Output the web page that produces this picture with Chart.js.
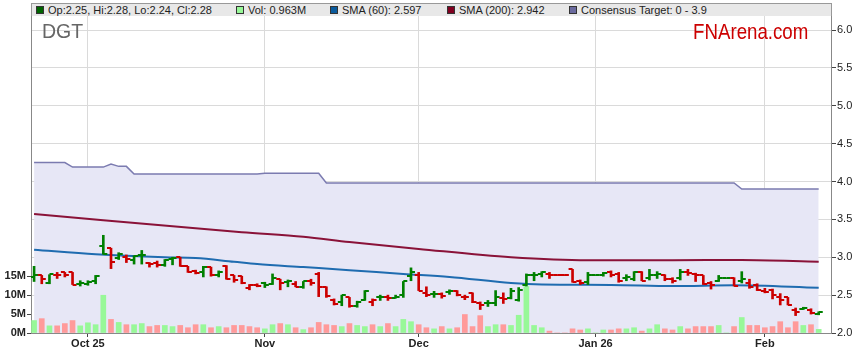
<!DOCTYPE html>
<html lang="en">
<head>
  <meta charset="UTF-8" />
  <title>DGT</title>
  <script src="https://cdn.jsdelivr.net/npm/chart.js"></script>
  <style>
    body { margin: 0; background: #fff; font-family: "Liberation Sans", Arial, sans-serif; }
    #wrap { position: relative; width: 859px; height: 363px; }
    #legend { position: absolute; left: 31px; top: 3px; width: 799px; height: 12px; background: #e8e8e8;
              border: 1px solid #999; border-bottom: none; font-size: 11px; color: #222; line-height: 12px; }
    .item { position: absolute; top: 0; white-space: nowrap; }
    .sq { display: inline-block; width: 6px; height: 6px; border: 1px solid #333; margin-right: 4px; vertical-align: 0px; }
    #code { position: absolute; left: 42px; top: 22px; font-size: 19.5px; line-height: 1; color: #666; }
    #brand { position: absolute; left: 693px; top: 21px; font-size: 22px; line-height: 1; color: #cc0000;
             transform: scaleX(0.85); transform-origin: left top; }
  </style>
</head>
<body>
  <div id="wrap">
    <canvas id="chart"></canvas>
    <div id="legend">
      <span class="item" style="left:4px"><span class="sq" style="background:#006400"></span>Op:2.25, Hi:2.28, Lo:2.24, Cl:2.28</span>
      <span class="item" style="left:204px"><span class="sq" style="background:#98f898"></span>Vol: 0.963M</span>
      <span class="item" style="left:298px"><span class="sq" style="background:#0a5a9c"></span>SMA (60): 2.597</span>
      <span class="item" style="left:415px"><span class="sq" style="background:#800020"></span>SMA (200): 2.942</span>
      <span class="item" style="left:537px"><span class="sq" style="background:#6a6a9e"></span>Consensus Target: 0 - 3.9</span>
    </div>
    <div id="code">DGT</div>
    <div id="brand">FNArena.com</div>
  </div>

  <script>
    // daily bars, 22 Sep 2025 -> 11 Feb 2026 (every weekday, holidays flat with no volume)
    const opens = [2.74,2.76,2.66,2.77,2.80,2.80,2.65,2.65,2.69,3.15, 3.12,2.99,3.00,2.96,3.03,2.93,2.93,2.90,2.98,3.00,
                   2.88,2.82,2.80,2.87,2.77,2.89,2.76,2.75,2.59,2.63, 2.66,2.65,2.71,2.67,2.65,2.61,2.69,2.78,2.61,2.44,
                   2.41,2.47,2.36,2.43,2.41,2.47,2.47,2.46,2.50,2.75, 2.76,2.53,2.51,2.52,2.54,2.56,2.48,2.53,2.40,2.39,
                   2.40,2.46,2.46,2.44,2.63,2.76,2.78,2.78,2.76,2.76, 2.84,2.68,2.67,2.76,2.77,2.81,2.78,2.72,2.71,2.80,
                   2.72,2.77,2.76,2.71,2.72,2.81,2.78,2.76,2.66,2.68, 2.72,2.73,2.68,2.66,2.63,2.55,2.57,2.47,2.47,2.30,
                   2.32,2.31,2.25];
    const highs = [2.88,2.76,2.77,2.80,2.80,2.80,2.69,2.69,2.76,3.29, 3.12,3.06,3.03,3.02,3.09,2.93,2.95,2.97,3.00,3.00,
                   2.88,2.83,2.88,2.87,2.82,2.89,2.76,2.75,2.64,2.65, 2.67,2.78,2.71,2.70,2.68,2.68,2.71,2.80,2.61,2.45,
                   2.50,2.47,2.42,2.56,2.45,2.50,2.50,2.50,2.68,2.86, 2.80,2.61,2.55,2.53,2.57,2.56,2.50,2.53,2.41,2.43,
                   2.56,2.53,2.59,2.60,2.78,2.80,2.81,2.80,2.76,2.76, 2.84,2.70,2.80,2.76,2.80,2.82,2.80,2.77,2.81,2.81,
                   2.84,2.81,2.77,2.73,2.84,2.84,2.79,2.76,2.68,2.76, 2.72,2.73,2.81,2.71,2.65,2.59,2.58,2.52,2.47,2.33,
                   2.34,2.32,2.28];
    const lows = [2.68,2.65,2.65,2.72,2.74,2.64,2.62,2.63,2.65,3.04, 2.85,2.97,2.93,2.91,2.91,2.87,2.87,2.88,2.90,2.88,
                  2.80,2.78,2.74,2.75,2.74,2.71,2.67,2.65,2.57,2.61, 2.60,2.64,2.57,2.61,2.61,2.59,2.63,2.48,2.47,2.37,
                  2.36,2.34,2.34,2.43,2.36,2.43,2.43,2.46,2.47,2.69, 2.56,2.48,2.47,2.46,2.51,2.49,2.44,2.40,2.31,2.35,
                  2.36,2.39,2.45,2.42,2.62,2.69,2.74,2.72,2.76,2.76, 2.67,2.64,2.64,2.76,2.75,2.74,2.67,2.69,2.69,2.69,
                  2.70,2.72,2.69,2.66,2.70,2.76,2.68,2.64,2.58,2.68, 2.72,2.62,2.66,2.59,2.56,2.53,2.45,2.37,2.37,2.23,
                  2.31,2.25,2.24];
    const closes = [2.76,2.71,2.78,2.77,2.76,2.64,2.66,2.67,2.75,3.04, 2.94,3.04,2.98,3.01,3.03,2.91,2.90,2.96,2.99,2.88,
                    2.80,2.79,2.87,2.77,2.80,2.71,2.70,2.66,2.63,2.62, 2.64,2.72,2.66,2.68,2.61,2.68,2.66,2.61,2.49,2.38,
                    2.50,2.36,2.41,2.55,2.43,2.47,2.46,2.47,2.68,2.81, 2.56,2.50,2.52,2.49,2.55,2.50,2.47,2.41,2.37,2.40,
                    2.47,2.45,2.55,2.57,2.76,2.77,2.80,2.76,2.76,2.76, 2.67,2.66,2.76,2.76,2.79,2.77,2.68,2.74,2.81,2.69,
                    2.76,2.78,2.71,2.69,2.80,2.79,2.77,2.65,2.64,2.72, 2.72,2.62,2.71,2.61,2.57,2.54,2.50,2.43,2.37,2.28,
                    2.33,2.26,2.28];
    // volume in millions of shares
    const volumes = [3.3,3.8,1.9,1.9,2.5,3.3,1.9,2.7,2.2,10.0, 3.6,2.8,2.2,2.2,2.5,1.7,2.0,2.0,1.7,2.0,
                     1.4,2.2,2.2,1.4,1.7,1.4,2.0,2.0,1.7,1.4, 1.1,2.2,2.5,2.2,1.4,0.9,1.4,2.8,2.2,2.0,
                     1.7,2.5,2.0,1.7,2.2,1.7,2.5,1.7,3.6,3.0, 2.2,1.4,1.1,1.7,1.1,1.4,4.9,1.7,4.6,1.7,
                     2.2,2.2,2.0,4.7,12.3,2.0,1.4,0.5,0,0, 1.1,0.8,1.1,0,0.8,0.8,1.1,1.1,1.4,0.5,
                     1.1,2.2,1.1,0.8,1.7,1.1,1.7,1.7,1.7,2.0, 0,1.7,4.1,2.0,2.0,1.4,1.7,3.0,1.4,3.0,
                     2.0,2.2,0.963];
    const prevClose = 2.72;

    const sma60 = [[0,3.10],[8,3.04],[17,3.00],[21,2.99],[26,2.94],[29,2.91],[35,2.87],[41,2.83],[48,2.78],
                   [54,2.74],[62,2.66],[66,2.64],[75,2.635],[83,2.62],[91,2.63],[102,2.597]];
    const sma200 = [[0,3.57],[27,3.33],[35,3.27],[41,3.20],[50,3.11],[62,3.00],[72,2.96],[83,2.96],[92,2.965],[102,2.942]];
    const consensus = [[0,4.25],[4,4.25],[5,4.19],[9,4.19],[10,4.23],[11,4.20],[12,4.20],[13,4.10],[29,4.10],[30,4.11],
                       [37,4.11],[38,3.98],[91,3.98],[92,3.90],[102,3.90]];

    const monthTicks = [7, 30, 50, 73, 95];
    const monthLabels = ['Oct 25', 'Nov', 'Dec', 'Jan 26', 'Feb'];
    const volTicks = [0, 5, 10, 15];

    const GREEN = '#008000', RED = '#cc0000';
    const VGREEN = '#98f898', VRED = '#ff9a9a';

    // up/down vs previous close, unchanged days keep the last colour
    const up = [];
    closes.forEach((c, i) => {
      const p = i ? closes[i - 1] : prevClose;
      up.push(c > p ? true : c < p ? false : (i ? up[i - 1] : true));
    });

    function tickImg(color, side) {
      const c = document.createElement('canvas');
      c.width = 10; c.height = 2;
      const g = c.getContext('2d');
      g.fillStyle = color;
      g.fillRect(side === 'open' ? 1 : 5, 0, 4, 2);
      return c;
    }
    const openG = tickImg(GREEN, 'open'), openR = tickImg(RED, 'open');
    const closeG = tickImg(GREEN, 'close'), closeR = tickImg(RED, 'close');

    const pts = arr => arr.map(([x, y]) => ({ x, y }));

    const ctx = document.getElementById('chart').getContext('2d');
    const chart = new Chart(ctx, {
      type: 'bar',
      data: {
        datasets: [
          {
            type: 'bar', yAxisID: 'yP', order: 1, grouped: false, barThickness: 2,
            data: highs.map((h, i) => ({ x: i, y: [lows[i], h] })),
            backgroundColor: c => up[c.dataIndex] ? GREEN : RED
          },
          {
            type: 'line', yAxisID: 'yP', order: 0, showLine: false, pointRadius: 3,
            data: opens.map((o, i) => ({ x: i, y: o })),
            pointStyle: c => up[c.dataIndex] ? openG : openR
          },
          {
            type: 'line', yAxisID: 'yP', order: 0, showLine: false, pointRadius: 3,
            data: closes.map((v, i) => ({ x: i, y: v })),
            pointStyle: c => up[c.dataIndex] ? closeG : closeR
          },
          {
            type: 'line', yAxisID: 'yP', order: 2, data: pts(sma60),
            borderColor: '#1f6cb0', borderWidth: 2, pointRadius: 0, cubicInterpolationMode: 'monotone'
          },
          {
            type: 'line', yAxisID: 'yP', order: 2, data: pts(sma200),
            borderColor: '#8a1238', borderWidth: 2, pointRadius: 0, cubicInterpolationMode: 'monotone'
          },
          {
            type: 'bar', yAxisID: 'yV', order: 4, grouped: false, barThickness: 5,
            data: volumes.map((v, i) => ({ x: i, y: v })),
            backgroundColor: c => up[c.dataIndex] ? VGREEN : VRED
          },
          {
            type: 'line', yAxisID: 'yP', order: 9, data: pts(consensus),
            borderColor: '#7b7bb0', borderWidth: 1.5, pointRadius: 0, tension: 0,
            fill: 'start', backgroundColor: '#e7e7f6'
          }
        ]
      },
      options: {
        responsive: true,
        maintainAspectRatio: false,
        animation: false,
        events: [],
        layout: { padding: { top: 16, left: 0, right: 0, bottom: 0 } },
        plugins: { legend: { display: false }, tooltip: { enabled: false } },
        scales: {
          x: {
            type: 'linear', min: -0.4, max: 103.6, offset: false,
            afterBuildTicks: s => { s.ticks = monthTicks.map(v => ({ value: v })); },
            afterFit: s => { s.height = 30; },
            ticks: {
              callback: (v, i) => monthLabels[i], autoSkip: false, maxRotation: 0,
              font: { family: '"Liberation Sans", Arial', size: 11, weight: 'bold' }, color: '#222', padding: 0
            },
            grid: { offset: false, color: '#dadada', tickColor: '#444', tickLength: 4 },
            border: { color: '#888' }
          },
          yV: {
            position: 'left', min: 0, max: 84,
            afterBuildTicks: s => { s.ticks = volTicks.map(v => ({ value: v })); },
            afterFit: s => { s.width = 31; },
            ticks: {
              callback: v => v + 'M',
              font: { family: '"Liberation Sans", Arial', size: 11, weight: 'bold' }, color: '#222', padding: 1
            },
            grid: { drawOnChartArea: false, tickColor: '#444', tickLength: 4 },
            border: { color: '#888' }
          },
          yP: {
            position: 'right', min: 2, max: 6.185,
            afterFit: s => { s.width = 28; },
            ticks: {
              stepSize: 0.5, includeBounds: false, callback: v => v.toFixed(1),
              font: { family: '"Liberation Sans", Arial', size: 11 }, color: '#222', padding: 1
            },
            grid: { color: '#dadada', tickColor: '#444', tickLength: 5 },
            border: { color: '#888' }
          }
        }
      }
    });
  </script>
</body>
</html>
